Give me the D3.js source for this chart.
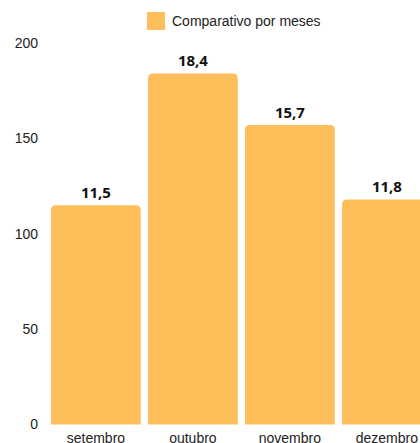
<!DOCTYPE html>
<html><head><meta charset="utf-8">
<script src="https://cdn.jsdelivr.net/npm/d3@7"></script>
<style>html,body{margin:0;padding:0;background:#fff;overflow:hidden}</style>
</head><body>
<svg id="c" width="420" height="443"></svg>
<script>
const categories = ["setembro", "outubro", "novembro", "dezembro"];
const values = [115, 184, 157, 118];
const valueLabels = ["11,5", "18,4", "15,7", "11,8"];
const yTicks = [0, 50, 100, 150, 200];
const seriesName = "Comparativo por meses";
const barColor = "#FEBE5A";

const svg = d3.select("#c");
const x = d3.scaleBand().domain(categories).range([47.4, 435.4]).paddingInner(0.075).paddingOuter(0.0375);
const y = d3.scaleLinear().domain([0, 200]).range([424.5, 43]);

// y axis labels
svg.append("g").selectAll("text").data(yTicks).join("text")
  .attr("x", 38).attr("y", d => y(d)).attr("dy", "0.35em")
  .attr("text-anchor", "end")
  .style("font-family", "Liberation Sans, Arial, sans-serif").style("font-size", "14px").attr("fill", "#222")
  .text(d => d);

// bars with rounded top corners
const r = 5;
svg.append("g").selectAll("path").data(values).join("path")
  .attr("fill", barColor)
  .attr("d", (d, i) => {
    const x0 = x(categories[i]), w = x.bandwidth(), y0 = y(d), yb = y(0);
    return `M${x0},${yb}V${y0 + r}Q${x0},${y0} ${x0 + r},${y0}H${x0 + w - r}Q${x0 + w},${y0} ${x0 + w},${y0 + r}V${yb}Z`;
  });

// value labels
svg.append("g").selectAll("text").data(values).join("text")
  .attr("x", (d, i) => x(categories[i]) + x.bandwidth() / 2)
  .attr("y", d => y(d) - 7.5)
  .attr("text-anchor", "middle")
  .style("font-family", "Open Sans, sans-serif").style("font-size", "15px").style("font-weight", "bold").attr("fill", "#111")
  .text((d, i) => valueLabels[i]);

// x axis labels
svg.append("g").selectAll("text").data(categories).join("text")
  .attr("x", d => x(d) + x.bandwidth() / 2)
  .attr("y", 443)
  .attr("text-anchor", "middle")
  .style("font-family", "Liberation Sans, Arial, sans-serif").style("font-size", "14px").attr("fill", "#222")
  .text(d => d);

// legend
svg.append("rect").attr("x", 147).attr("y", 12).attr("width", 18).attr("height", 18).attr("fill", barColor);
svg.append("text").attr("x", 172).attr("y", 21).attr("dy", "0.35em")
  .style("font-family", "Liberation Sans, Arial, sans-serif").style("font-size", "14px").attr("fill", "#222")
  .text(seriesName);
</script>
</body></html>
